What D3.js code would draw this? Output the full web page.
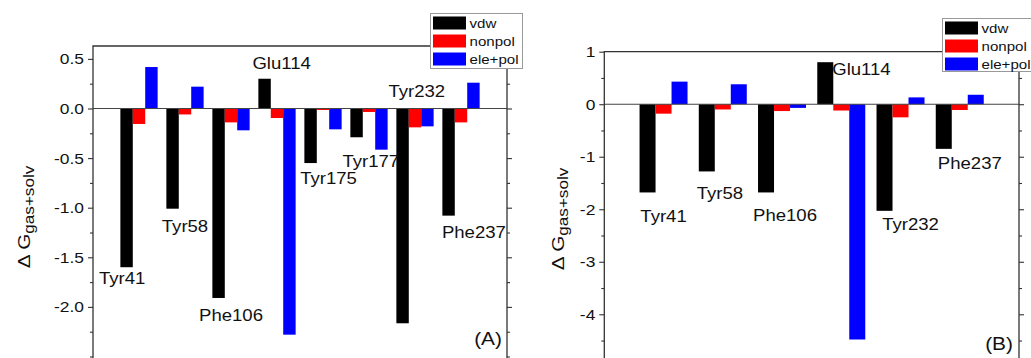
<!DOCTYPE html>
<html>
<head>
<meta charset="utf-8">
<script src="https://cdn.jsdelivr.net/npm/d3@7"></script>
<style>
  html, body { margin: 0; padding: 0; background: #fff; }
  svg { display: block; font-family: "Liberation Sans", Arial, sans-serif; }
</style>
</head>
<body>
<svg id="chart" width="1031" height="358"></svg>
<script>
// ---------------- data ----------------
const seriesNames = ["vdw", "nonpol", "ele+pol"];
const seriesColors = ["#000000", "#ff0000", "#0000ff"];

// Panel A
const residuesA = ["Tyr41", "Tyr58", "Phe106", "Glu114", "Tyr175", "Tyr177", "Tyr232", "Phe237"];
const vdwA     = [-1.60, -1.01, -1.91, 0.30, -0.55, -0.29, -2.165, -1.08];
const nonpolA  = [-0.156, -0.06, -0.14, -0.096, -0.015, -0.035, -0.19, -0.14];
const elepolA  = [0.418, 0.22, -0.22, -2.28, -0.21, -0.415, -0.18, 0.26];
const ticksA = [-2.0, -1.5, -1.0, -0.5, 0.0, 0.5];
const tickLabelsA = ["-2.0", "-1.5", "-1.0", "-0.5", "0.0", "0.5"];
// residue label anchors (value units, and offset in group steps)
const labelValA = [-1.77, -1.25, -2.14, 0.395, -0.764, -0.587, 0.119, -1.31];
const labelDxA  = [-0.365, 0, 0, 0.1, 0.12, 0.04, 0.04, 0.28];

// Panel B
const residuesB = ["Tyr41", "Tyr58", "Phe106", "Glu114", "Tyr232", "Phe237"];
const vdwB     = [-1.68, -1.28, -1.68, 0.80, -2.03, -0.85];
const nonpolB  = [-0.18, -0.10, -0.13, -0.12, -0.25, -0.11];
const elepolB  = [0.43, 0.38, -0.07, -4.48, 0.13, 0.18];
const ticksB = [-4, -3, -2, -1, 0, 1];
const tickLabelsB = ["-4", "-3", "-2", "-1", "0", "1"];
const labelValB = [-2.24, -1.80, -2.22, 0.56, -2.39, -1.24];
const labelDxB  = [0, -0.05, 0.05, 0.34, 0.17, 0.17];

// ---------------- drawing ----------------
const svg = d3.select("#chart");
const SX = 1.16; // horizontal stretch of the original artwork text

function stretchedText(g, x, y, str, size, anchor) {
  return g.append("text")
    .attr("transform", `translate(${x},${y}) scale(${SX},1)`)
    .attr("text-anchor", anchor)
    .attr("font-size", size)
    .attr("fill", "#111")
    .text(str);
}

function drawPanel(cfg) {
  const g = svg.append("g");
  const { left, right, top, yDomain, yBottom, categories, series, ticks, tickLabels, minorStep,
          labelVals, labelDx, legend, letter, letterPos, yLabelPos } = cfg;

  const pInner = 0.19;
  const x = d3.scaleBand().domain(categories).range([left, right])
    .paddingInner(pInner).paddingOuter((1 + pInner) / 2);
  const xs = d3.scaleBand().domain(seriesNames).range([0, x.bandwidth()]).padding(0);
  const y = d3.scaleLinear().domain(yDomain).range([yBottom, top]);

  // bars
  series.forEach((vals, si) => {
    g.append("g").selectAll("rect")
      .data(vals.map((v, i) => ({ v, c: categories[i] })))
      .join("rect")
      .attr("x", d => x(d.c) + xs(seriesNames[si]))
      .attr("width", xs.bandwidth())
      .attr("y", d => y(Math.max(0, d.v)))
      .attr("height", d => Math.abs(y(d.v) - y(0)))
      .attr("fill", seriesColors[si]);
  });

  // zero line
  g.append("line")
    .attr("x1", left).attr("x2", right)
    .attr("y1", y(0)).attr("y2", y(0))
    .attr("stroke", "#444").attr("stroke-width", 1.1);

  // frame (left, top, right); bottom runs off the image
  const fy2 = 362;
  g.append("path")
    .attr("d", `M${left},${fy2}V${top}H${right}V${fy2}`)
    .attr("fill", "none").attr("stroke", "#333").attr("stroke-width", 1.3);

  // ticks
  const yMajor = d3.axisLeft(y).tickValues(ticks).tickSize(5).tickFormat("");
  const minors = d3.range(yDomain[0], yDomain[1] + 1e-9, minorStep)
    .filter(v => !ticks.some(t => Math.abs(t - v) < 1e-9) && y(v) > top + 1 && y(v) < 358);
  const yMinor = d3.axisLeft(y).tickValues(minors).tickSize(3).tickFormat("");
  [yMajor, yMinor].forEach(ax => {
    const a = g.append("g").attr("transform", `translate(${left},0)`).call(ax);
    a.select(".domain").remove();
    a.selectAll("line").attr("stroke", "#333").attr("stroke-width", 1.1);
  });
  const yMajorR = d3.axisRight(y).tickValues(ticks).tickSize(5).tickFormat("");
  const yMinorR = d3.axisRight(y).tickValues(minors).tickSize(3).tickFormat("");
  [yMajorR, yMinorR].forEach(ax => {
    const a = g.append("g").attr("transform", `translate(${right},0)`).call(ax);
    a.select(".domain").remove();
    a.selectAll("line").attr("stroke", "#333").attr("stroke-width", 1.1);
  });

  // tick labels
  ticks.forEach((t, i) => {
    stretchedText(g, left - 9, y(t) + 5.5, tickLabels[i], 15, "end");
  });

  // y label
  const yl = g.append("text")
    .attr("transform", `translate(${yLabelPos[0]},${yLabelPos[1]}) rotate(-90) scale(1.22,1)`)
    .attr("text-anchor", "middle")
    .attr("font-size", 17)
    .attr("fill", "#111");
  yl.append("tspan").text("\u0394 G");
  yl.append("tspan").attr("font-size", 14).attr("dy", 4).text("gas+solv");

  // residue labels
  categories.forEach((c, i) => {
    const cx = x(c) + x.bandwidth() / 2 + labelDx[i] * x.step();
    stretchedText(g, cx, y(labelVals[i]), c, 16, "middle");
  });

  // legend
  const lg = g.append("g");
  lg.append("rect")
    .attr("x", legend.x).attr("y", legend.y)
    .attr("width", legend.w).attr("height", legend.h)
    .attr("fill", "#fff").attr("stroke", "#999").attr("stroke-width", 1);
  seriesNames.forEach((s, i) => {
    lg.append("rect")
      .attr("x", legend.x + 2.5).attr("y", legend.y + 3 + i * 18)
      .attr("width", 33).attr("height", 13)
      .attr("fill", seriesColors[i]);
    stretchedText(lg, legend.x + 39, legend.y + 14.5 + i * 18, s, 13, "start");
  });

  // panel letter
  stretchedText(g, letterPos[0], letterPos[1], letter, 18, "end");
}

drawPanel({
  left: 93, right: 507, top: 46, yDomain: [-2.5, 0.63], yBottom: 356.5,
  categories: residuesA, series: [vdwA, nonpolA, elepolA],
  ticks: ticksA, tickLabels: tickLabelsA, minorStep: 0.25,
  labelVals: labelValA, labelDx: labelDxA,
  legend: { x: 430.5, y: 13.5, w: 92, h: 55 },
  letter: "(A)", letterPos: [502, 345], yLabelPos: [30, 217]
});

drawPanel({
  left: 604.3, right: 1019, top: 51.7, yDomain: [-5, 1], yBottom: 366.8,
  categories: residuesB, series: [vdwB, nonpolB, elepolB],
  ticks: ticksB, tickLabels: tickLabelsB, minorStep: 0.5,
  labelVals: labelValB, labelDx: labelDxB,
  legend: { x: 942.5, y: 18.5, w: 95, h: 53 },
  letter: "(B)", letterPos: [1013, 350], yLabelPos: [564, 219]
});
</script>
</body>
</html>
